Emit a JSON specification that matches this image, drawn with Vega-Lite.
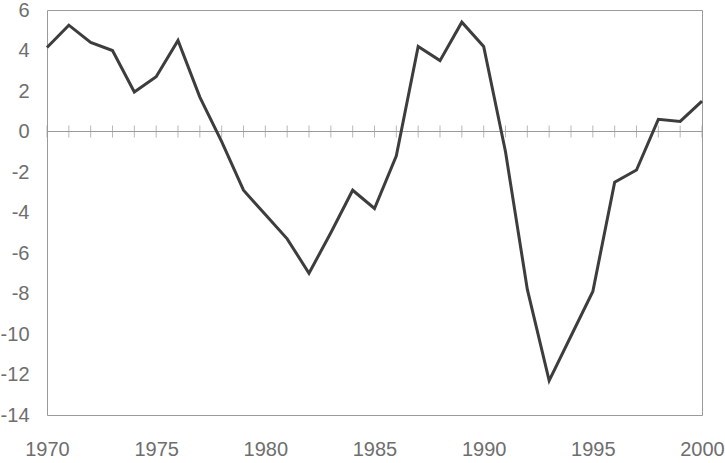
{
  "$schema": "https://vega.github.io/schema/vega-lite/v6.json",
  "autosize": "none",
  "width": 655,
  "height": 405,
  "padding": {"left": 47, "top": 10, "right": 23, "bottom": 48},
  "background": "white",
  "config": {
    "view": {"stroke": "#9a9a9a", "strokeWidth": 1},
    "axis": {"grid": false, "domain": false, "ticks": false, "labelFont": "Liberation Sans", "labelFontSize": 20, "labelColor": "#6e6e6e"}
  },
  "data": {
    "values": [
      {"year": 1970, "value": 4.15},
      {"year": 1971, "value": 5.25},
      {"year": 1972, "value": 4.4},
      {"year": 1973, "value": 4.0},
      {"year": 1974, "value": 1.95},
      {"year": 1975, "value": 2.7},
      {"year": 1976, "value": 4.5},
      {"year": 1977, "value": 1.7},
      {"year": 1978, "value": -0.5},
      {"year": 1979, "value": -2.9},
      {"year": 1980, "value": -4.1},
      {"year": 1981, "value": -5.3},
      {"year": 1982, "value": -7.0},
      {"year": 1983, "value": -5.0},
      {"year": 1984, "value": -2.9},
      {"year": 1985, "value": -3.8},
      {"year": 1986, "value": -1.2},
      {"year": 1987, "value": 4.2},
      {"year": 1988, "value": 3.5},
      {"year": 1989, "value": 5.4},
      {"year": 1990, "value": 4.2},
      {"year": 1991, "value": -1.0},
      {"year": 1992, "value": -7.8},
      {"year": 1993, "value": -12.3},
      {"year": 1994, "value": -10.1},
      {"year": 1995, "value": -7.9},
      {"year": 1996, "value": -2.5},
      {"year": 1997, "value": -1.9},
      {"year": 1998, "value": 0.6},
      {"year": 1999, "value": 0.5},
      {"year": 2000, "value": 1.5}
    ]
  },
  "encoding": {
    "x": {
      "field": "year", "type": "quantitative",
      "scale": {"domain": [1970, 2000], "nice": false, "zero": false},
      "axis": {"title": null, "values": [1970, 1975, 1980, 1985, 1990, 1995, 2000], "labelExpr": "'' + datum.value", "labelPadding": 24, "labelFlush": false, "labelOverlap": false}
    }
  },
  "layer": [
    {
      "mark": {"type": "rule", "color": "#9a9a9a", "strokeWidth": 1},
      "encoding": {"x": {"value": 0}, "x2": {"value": 655}, "y": {"datum": 0, "type": "quantitative"}}
    },
    {
      "mark": {"type": "tick", "orient": "vertical", "color": "#9a9a9a", "thickness": 1, "size": 12},
      "encoding": {"y": {"datum": 0, "type": "quantitative"}}
    },
    {
      "mark": {"type": "line", "color": "#3d3d3d", "strokeWidth": 3, "strokeJoin": "miter"},
      "encoding": {
        "y": {
          "field": "value", "type": "quantitative",
          "scale": {"domain": [-14, 6], "nice": false},
          "axis": {"title": null, "values": [-14, -12, -10, -8, -6, -4, -2, 0, 2, 4, 6], "labelExpr": "'' + datum.value", "labelPadding": 18, "labelFlush": false, "labelOverlap": false}
        }
      }
    }
  ]
}
